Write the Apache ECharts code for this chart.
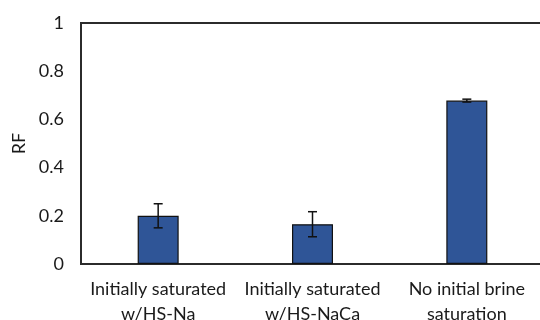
<!DOCTYPE html>
<html>
<head>
<meta charset="utf-8">
<script src="https://cdn.jsdelivr.net/npm/echarts@6/dist/echarts.min.js"></script>
<style>
  html, body { margin: 0; padding: 0; background: #fff; }
  #chart { width: 540px; height: 320px; }
</style>
</head>
<body>
<div id="chart"></div>
<script>
// Recovery factor for three initial saturation conditions
const categories = [
  'Initially saturated\nw/HS-Na',
  'Initially saturated\nw/HS-NaCa',
  'No initial brine\nsaturation'
];
const rfValues = [0.20, 0.165, 0.678];
const rfErrors = [0.05, 0.052, 0.006];

const FONT = 'Lato';
const TEXT_COLOR = '#1a1a1a';

const errorData = rfValues.map((v, i) => [i, v - rfErrors[i], v + rfErrors[i]]);

const chart = echarts.init(document.getElementById('chart'), null, { renderer: 'canvas' });

chart.setOption({
  animation: false,
  backgroundColor: '#fff',
  grid: {
    left: 81, right: -4, top: 23, bottom: 56,
    outerBoundsMode: 'none',
    containLabel: false,
    show: true, borderColor: '#2b2b2b', borderWidth: 2, backgroundColor: 'transparent'
  },
  xAxis: {
    type: 'category',
    data: categories,
    axisLine: { show: true, lineStyle: { color: '#2b2b2b', width: 2 } },
    axisTick: { show: false },
    axisLabel: {
      color: TEXT_COLOR, fontFamily: FONT, fontSize: 18, lineHeight: 25,
      margin: 13, interval: 0
    }
  },
  yAxis: {
    type: 'value',
    min: 0, max: 1, interval: 0.2,
    name: 'RF',
    nameLocation: 'middle',
    nameRotate: 90,
    nameGap: 51,
    nameTextStyle: { color: TEXT_COLOR, fontFamily: FONT, fontSize: 18 },
    axisLine: { show: true, lineStyle: { color: '#2b2b2b', width: 2 } },
    axisTick: { show: false },
    splitLine: { show: false },
    axisLabel: { color: TEXT_COLOR, fontFamily: FONT, fontSize: 18, margin: 17 }
  },
  series: [
    {
      type: 'bar',
      data: rfValues,
      barWidth: 41,
      itemStyle: { color: '#2f5597', borderColor: '#111', borderWidth: 1.2 }
    },
    {
      type: 'custom',
      data: errorData,
      z: 10,
      renderItem: function (params, api) {
        const x = api.value(0);
        const lo = api.coord([x, api.value(1)]);
        const hi = api.coord([x, api.value(2)]);
        const half = 4.5;
        const style = { stroke: '#111', lineWidth: 1.5 };
        return {
          type: 'group',
          children: [
            { type: 'line', shape: { x1: lo[0], y1: lo[1], x2: hi[0], y2: hi[1] }, style: style },
            { type: 'line', shape: { x1: hi[0] - half, y1: hi[1], x2: hi[0] + half, y2: hi[1] }, style: style },
            { type: 'line', shape: { x1: lo[0] - half, y1: lo[1], x2: lo[0] + half, y2: lo[1] }, style: style }
          ]
        };
      }
    }
  ]
});
</script>
</body>
</html>
